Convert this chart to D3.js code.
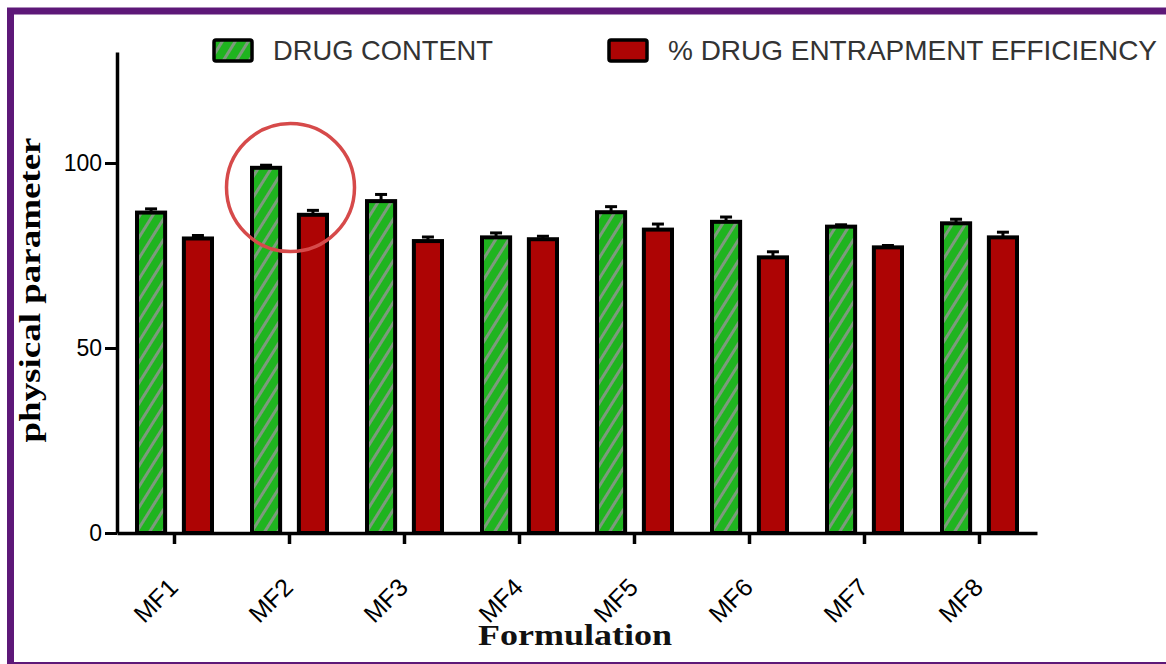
<!DOCTYPE html>
<html>
<head>
<meta charset="utf-8">
<script src="https://cdn.jsdelivr.net/npm/d3@7"></script>
<style>
  html, body { margin: 0; padding: 0; background: #fff; }
  svg { display: block; }
</style>
</head>
<body>
<svg id="chart" width="1166" height="664"></svg>
<script>
// Formulations and the two measured parameters (mean and error)
const categories = ["MF1", "MF2", "MF3", "MF4", "MF5", "MF6", "MF7", "MF8"];
const seriesNames = ["DRUG CONTENT", "% DRUG ENTRAPMENT EFFICIENCY"];
const drugContent = [86.6, 98.7, 89.7, 79.9, 86.7, 84.1, 82.8, 83.7];
const drugContentErr = [1.0, 0.7, 1.8, 1.2, 1.5, 1.3, 0.5, 1.1];
const entrapment = [79.6, 86.0, 78.9, 79.4, 82.0, 74.5, 77.2, 79.9];
const entrapmentErr = [0.8, 1.2, 1.1, 0.8, 1.5, 1.5, 0.5, 1.4];
const yTicks = [0, 50, 100];
const highlighted = "MF2";

const svg = d3.select("#chart");

const colors = { green: "#1fb41f", hatch: "#7d9a7d", red: "#ad0404" };

// Diagonal hatch used on the green bars
const defs = svg.append("defs");
const pat = defs.append("pattern")
  .attr("id", "hatch").attr("patternUnits", "userSpaceOnUse")
  .attr("width", 11).attr("height", 11)
  .attr("patternTransform", "rotate(32)");
pat.append("rect").attr("width", 11).attr("height", 11).attr("fill", colors.green);
pat.append("rect").attr("x", 0).attr("width", 3).attr("height", 11).attr("fill", colors.hatch);

// Outer purple frame
svg.append("rect")
  .attr("x", 10.5).attr("y", 11).attr("width", 1200).attr("height", 654.5)
  .attr("fill", "#fff").attr("stroke", "#5d1878").attr("stroke-width", 7);

const x = d3.scaleBand().domain(categories).range([117, 1037]).padding(0);
const x1 = d3.scaleBand().domain(seriesNames).range([20, 95]).paddingInner(0.4);
const y = d3.scaleLinear().domain([0, 130]).range([533, 52]);

const rows = categories.map((c, i) => ({
  cat: c,
  vals: [
    { s: seriesNames[0], v: drugContent[i], e: drugContentErr[i], fill: "url(#hatch)" },
    { s: seriesNames[1], v: entrapment[i], e: entrapmentErr[i], fill: colors.red }
  ]
}));

const groups = svg.append("g").selectAll("g").data(rows).join("g")
  .attr("transform", d => `translate(${x(d.cat)},0)`);

// Error bars (upper half only)
groups.selectAll("g.err").data(d => d.vals).join("g").attr("class", "err")
  .each(function(d) {
    const g = d3.select(this);
    const cx = x1(d.s) + x1.bandwidth() / 2;
    g.append("line").attr("x1", cx).attr("x2", cx)
      .attr("y1", y(d.v)).attr("y2", y(d.v + d.e))
      .attr("stroke", "#000").attr("stroke-width", 3);
    g.append("line").attr("x1", cx - 6).attr("x2", cx + 6)
      .attr("y1", y(d.v + d.e)).attr("y2", y(d.v + d.e))
      .attr("stroke", "#000").attr("stroke-width", 3);
  });

groups.selectAll("rect.bar").data(d => d.vals).join("rect").attr("class", "bar")
  .attr("x", d => x1(d.s))
  .attr("width", x1.bandwidth())
  .attr("y", d => y(d.v))
  .attr("height", d => y(0) - y(d.v))
  .attr("fill", d => d.fill)
  .attr("stroke", "#000").attr("stroke-width", 4);

// Axes
const yAxis = d3.axisLeft(y).tickValues(yTicks).tickSize(12).tickSizeOuter(0).tickPadding(3);
const gy = svg.append("g").attr("transform", "translate(117,0)").call(yAxis);
gy.select(".domain").attr("stroke-width", 3.5);
gy.selectAll(".tick line").attr("stroke-width", 3);
gy.selectAll(".tick text").attr("font-family", "Liberation Sans, Arial, sans-serif")
  .attr("font-size", 23).attr("fill", "#000");

const xAxis = d3.axisBottom(x).tickSize(11).tickSizeOuter(0).tickPadding(0);
const gx = svg.append("g").attr("transform", "translate(0,533)").call(xAxis);
gx.select(".domain").attr("stroke-width", 3.5);
gx.selectAll(".tick line").attr("stroke-width", 3.5);
gx.selectAll(".tick text")
  .attr("font-family", "Liberation Sans, Arial, sans-serif")
  .attr("font-size", 25).attr("fill", "#000")
  .attr("text-anchor", "end").attr("dy", null).attr("y", null)
  .attr("transform", "translate(5,56) rotate(-45)");

// Axis titles
svg.append("text")
  .attr("transform", "translate(40,290) rotate(-90)")
  .attr("text-anchor", "middle")
  .attr("font-family", "Liberation Serif, Times New Roman, serif")
  .attr("font-weight", "bold").attr("font-size", 29)
  .attr("textLength", 305).attr("lengthAdjust", "spacingAndGlyphs")
  .attr("fill", "#000")
  .text("physical parameter");

svg.append("text")
  .attr("x", 575).attr("y", 645)
  .attr("text-anchor", "middle")
  .attr("font-family", "Liberation Serif, Times New Roman, serif")
  .attr("font-weight", "bold").attr("font-size", 30)
  .attr("textLength", 194).attr("lengthAdjust", "spacingAndGlyphs")
  .attr("fill", "#111")
  .text("Formulation");

// Legend
const legend = [
  { name: seriesNames[0], fill: "url(#hatch)", sx: 214, tx: 273, tw: 220 },
  { name: seriesNames[1], fill: colors.red, sx: 609, tx: 668, tw: 489 }
];
const lg = svg.append("g").selectAll("g").data(legend).join("g");
lg.append("rect")
  .attr("x", d => d.sx).attr("y", 40).attr("width", 38).attr("height", 21)
  .attr("rx", 2)
  .attr("fill", d => d.fill).attr("stroke", "#000").attr("stroke-width", 3.5);
lg.append("text")
  .attr("x", d => d.tx).attr("y", 60)
  .attr("font-family", "Liberation Sans, Arial, sans-serif")
  .attr("font-size", 28).attr("fill", "#333")
  .attr("textLength", d => d.tw).attr("lengthAdjust", "spacingAndGlyphs")
  .text(d => d.name);

// Highlight ring around the best formulation
const hiIdx = categories.indexOf(highlighted);
svg.append("circle")
  .attr("cx", x(highlighted) + x.bandwidth() / 2 + 1)
  .attr("cy", y((drugContent[hiIdx] + entrapment[hiIdx]) / 2 + 1))
  .attr("r", 64)
  .attr("fill", "none").attr("stroke", "#d64a4a").attr("stroke-width", 3.5);
</script>
</body>
</html>
